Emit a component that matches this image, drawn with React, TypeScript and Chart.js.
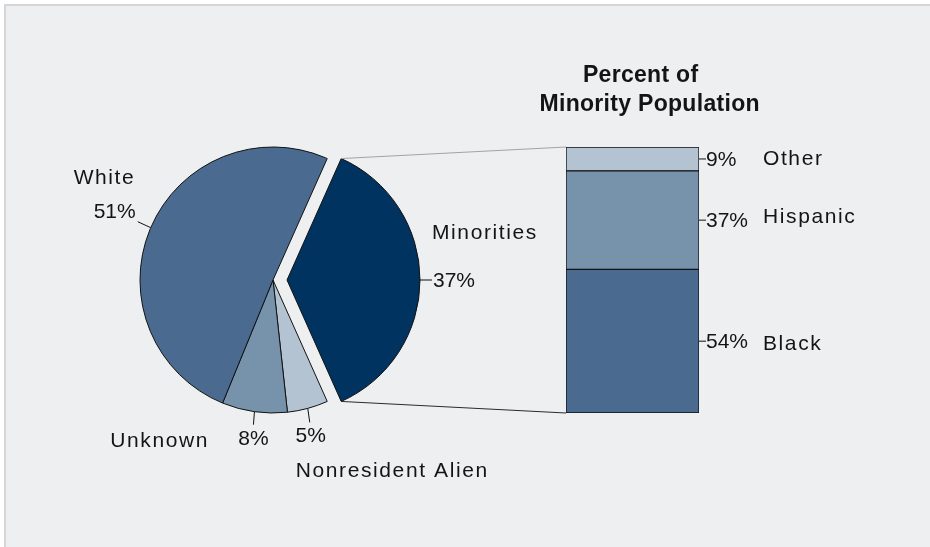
import React, { useEffect, useRef } from "react";
import { Chart, registerables } from "chart.js";

Chart.register(...registerables);

// ---------- data ----------
const pieLabels = ["Minorities", "Nonresident Alien", "Unknown", "White"];
const pieValues = [37, 5, 8, 51];
const pieColors = ["#00335f", "#b4c3d1", "#7792ab", "#4a6b8f"];

const barLabels = ["Black", "Hispanic", "Other"];
const barValues = [54, 37, 9];
const barColors = ["#4a6b8f", "#7792ab", "#b4c3d1"];

const titleLines = ["Percent of", "Minority Population"];

// ---------- layout / style ----------
const W = 930;
const H = 547;
const FONT = "'Liberation Sans', Arial, Helvetica, sans-serif";
const TEXT_COLOR = "#141414";
const EXPLODE = [14, 0, 0, 0];
const PIE_RADIUS = 133;
// offsets relative to the slice's outer edge point at its mid angle
const PIE_LABEL_LAYOUT: any[] = [
  { lead: [12, 0], pct: [13, 7, "left"], name: [12, -41, "left"] },
  { lead: [2, 14], pct: [3, 34, "center"], name: [-12, 69, "left"] },
  { lead: [-1, 13], pct: [-1, 33, "center"], name: [-47, 35, "right"] },
  { lead: [-13, -6], pct: [-15, -10, "right"], name: [-17, -44, "right"] },
];
const BAR_NAME_DY = [2, -4, -1];

function drawText(
  ctx: CanvasRenderingContext2D,
  text: string,
  x: number,
  y: number,
  align: CanvasTextAlign,
  ls: number,
  font: string
) {
  ctx.save();
  ctx.font = font;
  ctx.fillStyle = TEXT_COLOR;
  (ctx as any).letterSpacing = ls + "px";
  ctx.textAlign = align;
  ctx.textBaseline = "alphabetic";
  let xx = x;
  if (align === "right") xx += ls;
  if (align === "center") xx += ls / 2;
  ctx.fillText(text, xx, y);
  ctx.restore();
}

function line(ctx: CanvasRenderingContext2D, x1: number, y1: number, x2: number, y2: number, color: string) {
  ctx.save();
  ctx.strokeStyle = color;
  ctx.lineWidth = 1;
  ctx.beginPath();
  ctx.moveTo(x1, y1);
  ctx.lineTo(x2, y2);
  ctx.stroke();
  ctx.restore();
}

const pieLabelPlugin = {
  id: "pieLabels",
  afterDatasetsUpdate(chart: any) {
    const meta = chart.getDatasetMeta(0);
    meta.data.forEach((arc: any, i: number) => {
      const e = EXPLODE[i] || 0;
      if (!e) return;
      const mid = (arc.startAngle + arc.endAngle) / 2;
      arc.x += Math.cos(mid) * e;
      arc.y += Math.sin(mid) * e;
    });
  },
  afterDraw(chart: any) {
    const ctx = chart.ctx as CanvasRenderingContext2D;
    const meta = chart.getDatasetMeta(0);
    meta.data.forEach((arc: any, i: number) => {
      const mid = (arc.startAngle + arc.endAngle) / 2;
      const R = arc.outerRadius;
      const ex = arc.x + Math.cos(mid) * R;
      const ey = arc.y + Math.sin(mid) * R;
      const L = PIE_LABEL_LAYOUT[i];
      line(ctx, ex, ey, ex + L.lead[0], ey + L.lead[1], "#111");
      drawText(ctx, `${pieValues[i]}%`, ex + L.pct[0], ey + L.pct[1], L.pct[2], 0, `21px ${FONT}`);
      drawText(ctx, pieLabels[i], ex + L.name[0], ey + L.name[1], L.name[2], 1.6, `21px ${FONT}`);
    });
  },
};

export default function App() {
  const pieRef = useRef<HTMLCanvasElement>(null);
  const barRef = useRef<HTMLCanvasElement>(null);

  useEffect(() => {
    if (!pieRef.current || !barRef.current) return;
    const total = pieValues.reduce((a, b) => a + b, 0);
    const rotation = 90 - ((pieValues[0] / total) * 360) / 2;

    const pie = new Chart(pieRef.current, {
      type: "pie",
      data: {
        labels: pieLabels,
        datasets: [
          {
            data: pieValues,
            backgroundColor: pieColors,
            borderColor: "#111",
            borderWidth: 1,
            hoverOffset: 0,
          } as any,
        ],
      },
      options: {
        animation: false,
        responsive: false,
        events: [],
        rotation,
        radius: PIE_RADIUS,
        layout: { padding: { left: 140, right: W - 406, top: 147, bottom: H - 413 } },
        plugins: { legend: { display: false }, tooltip: { enabled: false } },
      } as any,
      plugins: [pieLabelPlugin],
    });

    const barPlugin = {
      id: "barLabels",
      afterDraw(chart: any) {
        const ctx = chart.ctx as CanvasRenderingContext2D;
        const bars = barValues.map((_, i) => chart.getDatasetMeta(i).data[0].getProps(["x", "y", "base", "width"], true));
        const left = bars[0].x - bars[0].width / 2;
        const right = bars[0].x + bars[0].width / 2;
        const topY = bars[bars.length - 1].y;
        const bottomY = bars[0].base;
        bars.forEach((b: any, i: number) => {
          const cy = (b.y + b.base) / 2;
          line(ctx, right, cy, right + 7, cy, "#111");
          drawText(ctx, `${barValues[i]}%`, right + 7, cy + 7, "left", 0, `21px ${FONT}`);
          drawText(ctx, barLabels[i], right + 64, cy + 7 + BAR_NAME_DY[i], "left", 1.6, `21px ${FONT}`);
        });
        const cx = (left + right) / 2;
        drawText(ctx, titleLines[0], cx + 8, topY - 65, "center", 0.3, `bold 23px ${FONT}`);
        drawText(ctx, titleLines[1], cx + 17, topY - 36, "center", 0.3, `bold 23px ${FONT}`);

        // connectors from exploded slice
        const arc: any = pie.getDatasetMeta(0).data[0];
        const R = arc.outerRadius;
        const sx = arc.x + Math.cos(arc.startAngle) * R;
        const sy = arc.y + Math.sin(arc.startAngle) * R;
        const bx = arc.x + Math.cos(arc.endAngle) * R;
        const by = arc.y + Math.sin(arc.endAngle) * R;
        line(ctx, sx, sy, left, topY, "#a3a3a3");
        line(ctx, bx, by, left, bottomY, "#2a2a2a");
      },
    };

    const bar = new Chart(barRef.current, {
      type: "bar",
      data: {
        labels: [""],
        datasets: barLabels.map((l, i) => ({
          label: l,
          data: [barValues[i]],
          backgroundColor: barColors[i],
          borderColor: "#111",
          borderWidth: 1,
          borderSkipped: false,
          barPercentage: 1,
          categoryPercentage: 1,
        })),
      },
      options: {
        animation: false,
        responsive: false,
        events: [],
        layout: { padding: { left: 566, right: W - 699, top: 147, bottom: H - 413 } },
        scales: {
          x: { stacked: true, display: false },
          y: { stacked: true, display: false, min: 0, max: 100 },
        },
        plugins: { legend: { display: false }, tooltip: { enabled: false } },
      } as any,
      plugins: [barPlugin],
    });

    return () => {
      bar.destroy();
      pie.destroy();
    };
  }, []);

  return (
    <div style={{ position: "fixed", left: 0, top: 0, width: W, height: H, background: "#ffffff", overflow: "hidden" }}>
      <div
        style={{
          position: "absolute",
          left: 4,
          top: 4,
          right: 0,
          bottom: 0,
          background: "#eeeff1",
          borderTop: "2px solid #d6d6d6",
          borderLeft: "2px solid #d6d6d6",
        }}
      />
      <canvas ref={pieRef} width={W} height={H} style={{ position: "absolute", left: 0, top: 0, display: "block" }} />
      <canvas ref={barRef} width={W} height={H} style={{ position: "absolute", left: 0, top: 0, display: "block" }} />
    </div>
  );
}
